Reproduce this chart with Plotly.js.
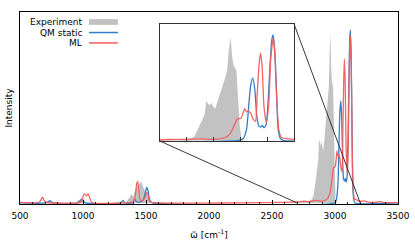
<!DOCTYPE html>
<html>
<head>
<meta charset="utf-8">
<script src="https://cdn.plot.ly/plotly-3.0.1.min.js"></script>
<style>html,body{margin:0;padding:0;background:#fff;}#chart{width:415px;height:249px;}</style>
</head>
<body>
<div id="chart"></div>
<script>
// Experiment (grey filled)
const expX = [500, 940, 960, 980, 1000, 1020, 1340, 1360, 1386, 1398, 1413, 1430, 1448, 1460, 1475, 1490, 1505, 1520, 1535, 1550,
  2650, 2680, 2720, 2760, 2790, 2815, 2829, 2848, 2867, 2873, 2885, 2892, 2898, 2906, 2916, 2929, 2941, 2951, 2957, 2964, 2969, 2976, 2985, 2991, 2998, 3004, 3012, 3030, 3500];
const expY = [0, 0, 0.015, 0.02, 0.015, 0, 0, 0.02, 0.052, 0.035, 0.07, 0.095, 0.115, 0.123, 0.1, 0.07, 0.055, 0.04, 0.01, 0,
  0, 0.005, 0.008, 0.01, 0.012, 0.02, 0.04, 0.135, 0.245, 0.37, 0.33, 0.356, 0.324, 0.299, 0.37, 0.48, 0.575, 0.67, 0.858, 0.978, 0.795, 0.70, 0.67, 0.42, 0.135, 0.015, 0.004, 0, 0];

// QM static (blue)
const qmX = [500, 700, 725, 738, 750, 770, 960, 980, 992, 1005, 1020, 1300, 1312, 1320, 1330, 1395, 1408, 1420, 1435, 1460, 1480, 1495, 1505, 1515, 1525, 1538, 1550,
  2995, 3010, 3023, 3032, 3039, 3046, 3054, 3061, 3069, 3076, 3082, 3088, 3096, 3103, 3111, 3117, 3122, 3128, 3135, 3141, 3150, 3160, 3500];
const qmY = [0, 0, 0.008, 0.013, 0.005, 0, 0, 0.015, 0.024, 0.01, 0, 0, 0.01, 0.015, 0, 0, 0.022, 0.012, 0.004, 0.008, 0.02, 0.06, 0.09, 0.075, 0.03, 0.006, 0,
  0, 0.015, 0.105, 0.355, 0.53, 0.59, 0.48, 0.23, 0.135, 0.128, 0.141, 0.12, 0.15, 0.355, 0.73, 0.95, 1.0, 0.86, 0.45, 0.10, 0.015, 0, 0];

// ML (red)
const mlX = [500, 650, 668, 680, 692, 710, 980, 995, 1005, 1015, 1028, 1042, 1055, 1070, 1380, 1405, 1418, 1426, 1434, 1442, 1452, 1470, 1490, 1505, 1515, 1528, 1545,
  2700, 2750, 2800, 2850, 2900, 2941, 2960, 2976, 2989, 3002, 3010, 3016, 3023, 3029, 3039, 3047, 3056, 3063, 3070, 3075, 3081, 3088, 3097, 3106, 3113, 3122, 3128, 3135, 3144, 3154, 3179, 3200, 3230, 3260, 3330, 3350, 3380, 3500];
const mlY = [0.003, 0.004, 0.02, 0.033, 0.015, 0.003, 0.003, 0.02, 0.048, 0.052, 0.04, 0.052, 0.025, 0.003, 0.003, 0.012, 0.06, 0.11, 0.125, 0.08, 0.02, 0.01, 0.03, 0.06, 0.05, 0.01, 0.003,
  0.006, 0.01, 0.008, 0.015, 0.01, 0.025, 0.057, 0.135, 0.204, 0.21, 0.26, 0.30, 0.27, 0.28, 0.255, 0.204, 0.18, 0.45, 0.73, 0.83, 0.70, 0.32, 0.17, 0.355, 0.765, 0.97, 0.83, 0.42, 0.09, 0.025, 0.015, 0.01, 0.012, 0.005, 0.004, 0.008, 0.003, 0.002];

const legendLabels = ['Experiment', 'QM static', 'ML'];
const colors = {exp: '#c2c2c2', qm: '#2f7fc8', ml: '#f55d5d'};

const mainRange = [500, 3500];
const insetRange = [2700, 3200];
const yRange = [-0.006, 1.103];
const insetDomX = [0.370, 0.725];
const insetDomY = [0.328, 0.9375];

const font = {family: 'DejaVu Sans, sans-serif', size: 9, color: '#000'};

function series(ax) {
  const xa = ax === 1 ? 'x' : 'x2', ya = ax === 1 ? 'y' : 'y2';
  return [
    {x: expX, y: expY, xaxis: xa, yaxis: ya, type: 'scatter', mode: 'lines', fill: 'tozeroy',
      fillcolor: colors.exp, line: {width: 0, color: colors.exp}, showlegend: false, hoverinfo: 'skip'},
    {x: qmX, y: qmY, xaxis: xa, yaxis: ya, type: 'scatter', mode: 'lines',
      line: {width: 1.3, color: colors.qm, shape: 'spline', smoothing: 0.6}, showlegend: false},
    {x: mlX, y: mlY, xaxis: xa, yaxis: ya, type: 'scatter', mode: 'lines',
      line: {width: 1.3, color: colors.ml, shape: 'spline', smoothing: 0.6}, opacity: 0.95, showlegend: false}
  ];
}

const data = series(1).concat(series(2));

function toPaperX(v) { return (v - mainRange[0]) / (mainRange[1] - mainRange[0]); }
function toPaperY(v) { return (v - yRange[0]) / (yRange[1] - yRange[0]); }

const legY = [0.948, 0.893, 0.839];
const legTextX = 0.169, legSymX = [0.1825, 0.259];

const annotations = legendLabels.map((t, i) => ({
  text: t, xref: 'paper', yref: 'paper', x: legTextX, y: legY[i], xanchor: 'right', yanchor: 'middle',
  showarrow: false, font: font
}));

const shapes = [
  {type: 'rect', xref: 'paper', yref: 'paper', x0: legSymX[0], x1: legSymX[1], y0: legY[0] - 0.015, y1: legY[0] + 0.015,
    fillcolor: colors.exp, line: {width: 0}},
  {type: 'line', xref: 'paper', yref: 'paper', x0: legSymX[0], x1: legSymX[1], y0: legY[1], y1: legY[1], line: {color: colors.qm, width: 1.5}},
  {type: 'line', xref: 'paper', yref: 'paper', x0: legSymX[0], x1: legSymX[1], y0: legY[2], y1: legY[2], line: {color: colors.ml, width: 1.5}},
  // connector lines from inset corners to the zoomed interval on the main axis
  {type: 'line', xref: 'paper', yref: 'paper', x0: insetDomX[0], y0: insetDomY[0], x1: toPaperX(insetRange[0]), y1: toPaperY(0),
    line: {color: '#222', width: 0.9}},
  {type: 'line', xref: 'paper', yref: 'paper', x0: insetDomX[1], y0: insetDomY[1], x1: toPaperX(insetRange[1]), y1: toPaperY(0),
    line: {color: '#222', width: 0.9}}
];

const layout = {
  width: 415, height: 249,
  margin: {l: 20, r: 17, t: 12, b: 45},
  paper_bgcolor: '#fff', plot_bgcolor: '#fff',
  font: font,
  showlegend: false,
  xaxis: {
    range: mainRange, domain: [0, 1], showgrid: false, zeroline: false,
    showline: true, mirror: true, linecolor: '#000', linewidth: 1,
    ticks: 'inside', ticklen: 4, tickwidth: 1, tickcolor: '#000', dtick: 500, tick0: 500,
    minor: {dtick: 100, ticks: 'inside', ticklen: 2.5, tickwidth: 0.8, tickcolor: '#000', showgrid: false},
    tickfont: font, ticklabelstandoff: 3,
    title: {text: 'ω̃ [cm<sup>-1</sup>]', font: font, standoff: 11}
  },
  yaxis: {
    range: yRange, domain: [0, 1], showgrid: false, zeroline: false,
    showline: true, mirror: true, linecolor: '#000', linewidth: 1,
    ticks: '', showticklabels: false,
    title: {text: 'Intensity', font: font, standoff: 4}
  },
  xaxis2: {
    range: insetRange, domain: insetDomX, anchor: 'y2', showgrid: false, zeroline: false,
    showline: true, mirror: true, linecolor: '#333', linewidth: 1,
    ticks: 'inside', ticklen: 4, tickwidth: 1, tickcolor: '#333', dtick: 100, tick0: 2700,
    showticklabels: false
  },
  yaxis2: {
    range: yRange, domain: insetDomY, anchor: 'x2', showgrid: false, zeroline: false,
    showline: true, mirror: true, linecolor: '#333', linewidth: 1,
    ticks: '', showticklabels: false
  },
  annotations: annotations,
  shapes: shapes
};

Plotly.newPlot('chart', data, layout, {staticPlot: true, displayModeBar: false});
</script>
</body>
</html>
